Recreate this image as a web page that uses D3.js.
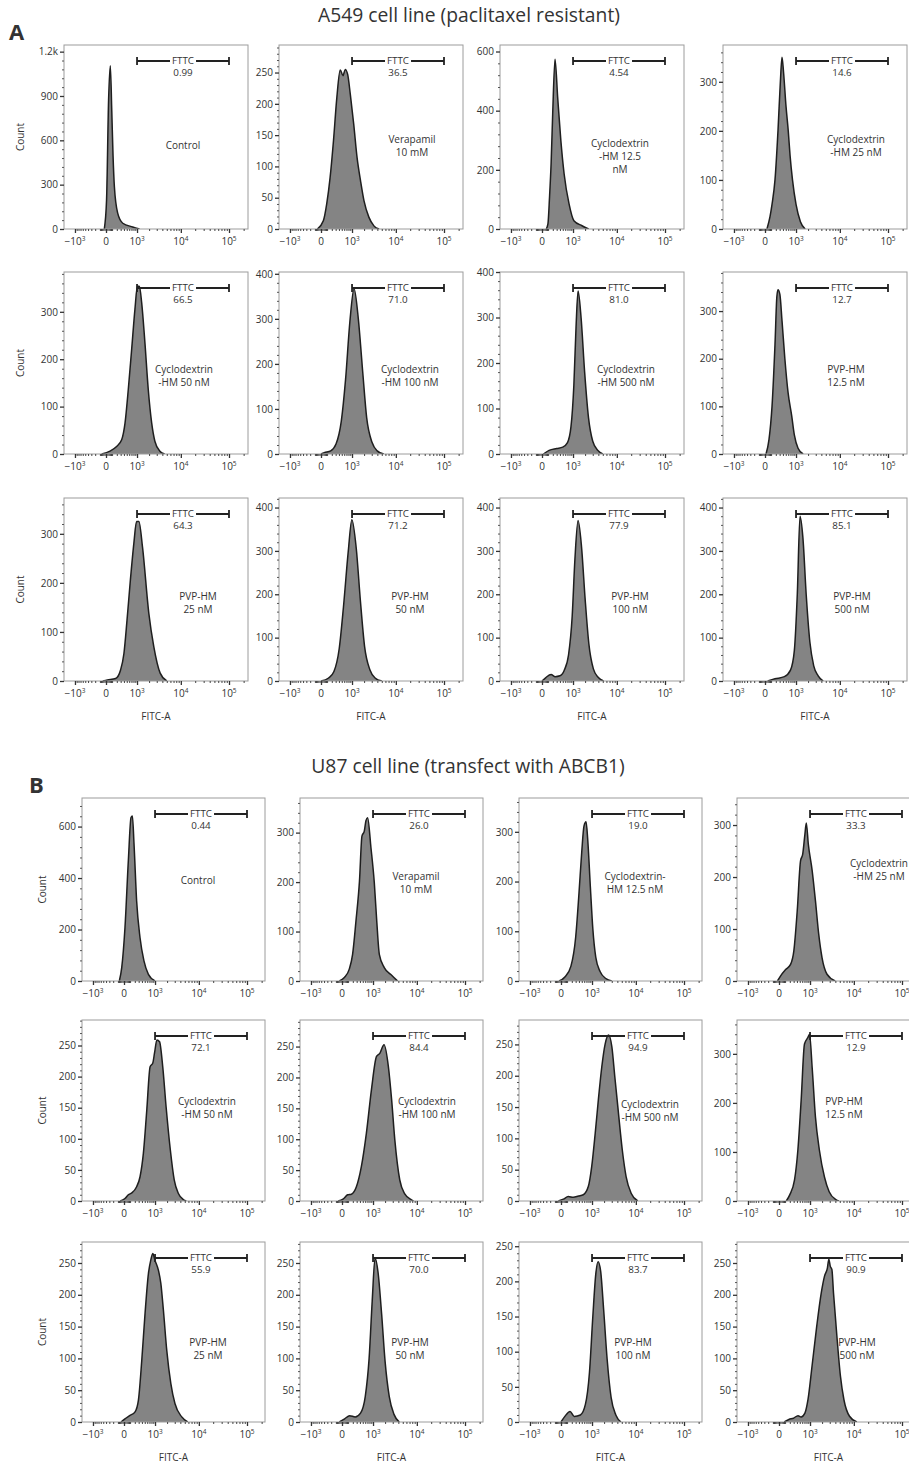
<!DOCTYPE html>
<meta charset="utf-8">
<style>
  body { margin: 0; background: #fff; }
  svg text { font-family: "Open Sans", sans-serif; fill: #333; }
</style>
<script src="https://cdnjs.cloudflare.com/ajax/libs/d3/7.8.5/d3.min.js"></script>
<body>
<script>

// ---- data ----
var labelsA = [["Control"], ["Verapamil", "10 mM"], ["Cyclodextrin", "-HM 12.5", "nM"], ["Cyclodextrin", "-HM 25 nM"],
  ["Cyclodextrin", "-HM 50 nM"], ["Cyclodextrin", "-HM 100 nM"], ["Cyclodextrin", "-HM 500 nM"], ["PVP-HM", "12.5 nM"],
  ["PVP-HM", "25 nM"], ["PVP-HM", "50 nM"], ["PVP-HM", "100 nM"], ["PVP-HM", "500 nM"]];
var labelsB = [["Control"], ["Verapamil", "10 mM"], ["Cyclodextrin-", "HM 12.5 nM"], ["Cyclodextrin", "-HM 25 nM"],
  ["Cyclodextrin", "-HM 50 nM"], ["Cyclodextrin", "-HM 100 nM"], ["Cyclodextrin", "-HM 500 nM"], ["PVP-HM", "12.5 nM"],
  ["PVP-HM", "25 nM"], ["PVP-HM", "50 nM"], ["PVP-HM", "100 nM"], ["PVP-HM", "500 nM"]];

var gateA = ["0.99", "36.5", "4.54", "14.6", "66.5", "71.0", "81.0", "12.7", "64.3", "71.2", "77.9", "85.1"];
var gateB = ["0.44", "26.0", "19.0", "33.3", "72.1", "84.4", "94.9", "12.9", "55.9", "70.0", "83.7", "90.9"];

// y axis: top of the count scale and major tick step
var yMaxA = [1245, 294, 622, 375, 384, 404, 400, 382, 373, 422, 422, 422];
var yStepA = [300, 50, 200, 100, 100, 100, 100, 100, 100, 100, 100, 100];
var yMaxB = [711, 370, 368, 352, 291, 293, 289, 369, 283, 283, 256, 283];
var yStepB = [200, 100, 100, 100, 50, 50, 50, 100, 50, 50, 50, 50];

var xMajor = [-1000, 0, 1000, 10000, 100000];
var xMinor = d3.range(-900, 0, 100).concat([-80, -60, -40, -20, 20, 40, 60, 80],
  d3.range(100, 1000, 100), d3.range(2000, 10000, 1000), d3.range(20000, 100000, 10000), [200000]);

// histograms: [FITC-A, count]
var histA = [
  [[-25,0],[8,196],[39,873],[68,1105],[94,800],[118,500],[146,286],[221,107],[363,39],[760,14],[1160,0]],
  [[-57,0],[35,13],[93,40],[161,82],[241,141],[334,210],[444,254],[548,245],[644,255],[758,247],[899,215],[1106,168],[1350,114],[1644,77],[1990,45],[2580,19],[3355,5],[4370,0]],
  [[66,0],[97,17],[128,107],[161,220],[197,388],[255,574],[329,445],[432,298],[554,186],[780,84],[1055,28],[1690,11],[2420,0]],
  [[29,0],[80,25],[118,50],[181,100],[254,200],[320,300],[370,350],[420,320],[510,250],[600,200],[680,150],[800,100],[1000,50],[1300,15],[1700,0]],
  [[-68,0],[62,6],[195,16],[329,30],[437,65],[560,136],[707,220],[877,305],[1020,354],[1150,354],[1320,319],[1590,234],[1910,136],[2300,65],[2720,27],[3520,6],[4500,0]],
  [[0,0],[50,3],[175,7],[310,22],[483,73],[657,165],[875,294],[1130,367],[1450,300],[1850,183],[2300,80],[3040,26],[3970,7],[5530,0]],
  [[20,0],[120,8],[300,12],[500,15],[700,25],[880,60],[1050,150],[1200,280],[1350,358],[1600,300],[1950,180],[2400,80],[3000,28],[3900,8],[5000,0]],
  [[15,0],[62,30],[118,100],[181,230],[225,330],[254,345],[306,335],[370,280],[467,200],[590,130],[760,80],[900,40],[1130,12],[1520,0]],
  [[-50,0],[20,2],[172,5],[295,22],[400,56],[510,124],[650,206],[820,281],[970,325],[1120,325],[1380,274],[1970,138],[2570,70],[3580,16],[5000,0]],
  [[0,0],[130,7],[253,22],[410,75],[566,170],[790,300],[990,372],[1290,305],[1630,185],[2050,80],[2720,26],[3570,7],[5000,0]],
  [[0,0],[60,8],[160,15],[260,10],[400,12],[560,25],[750,60],[950,150],[1120,280],[1350,370],[1640,310],[2000,190],[2450,85],[3100,28],[4000,8],[5200,0]],
  [[40,0],[180,5],[450,10],[700,25],[900,70],[1080,200],[1270,380],[1500,330],[1800,200],[2200,90],[2700,35],[3400,12],[4400,0]]
];
var histB = [
  [[-74,0],[-34,52],[14,207],[68,466],[118,635],[146,641],[182,531],[245,311],[340,168],[470,78],[650,26],[1000,0]],
  [[-40,0],[35,7],[123,24],[195,54],[280,121],[385,202],[470,293],[560,303],[630,324],[707,330],[877,270],[1080,199],[1250,121],[1450,54],[1910,27],[2720,13],[3830,0]],
  [[-30,0],[60,8],[180,30],[300,88],[400,175],[500,260],[590,312],[680,320],[760,285],[900,190],[1050,105],[1250,48],[1600,19],[2200,5],[3000,0]],
  [[-23,0],[24,10],[111,22],[218,32],[305,58],[410,135],[530,231],[620,244],[720,282],[790,304],[900,263],[1140,212],[1380,154],[1660,90],[1990,45],[2600,13],[3970,0]],
  [[-60,0],[14,4],[68,10],[133,13],[245,23],[340,39],[450,77],[580,146],[730,216],[870,222],[970,238],[1120,259],[1310,256],[1570,216],[1890,152],[2380,82],[2920,34],[3620,12],[4700,2],[5400,0]],
  [[-60,0],[14,3],[92,10],[167,11],[292,23],[450,56],[650,110],[905,180],[1233,234],[1490,239],[1890,253],[2380,218],[2830,164],[3340,99],[4300,34],[5470,12],[7680,2],[8500,0]],
  [[-40,0],[35,3],[123,7],[236,6],[385,8],[560,10],[790,23],[980,55],[1210,108],[1450,161],[1760,214],[2120,251],[2550,265],[3020,246],[3520,198],[4170,145],[5140,81],[6200,39],[8000,12],[11000,0]],
  [[123,0],[195,12],[325,43],[432,104],[554,205],[700,320],[870,333],[970,340],[1140,271],[1380,171],[1720,104],[2270,49],[2910,19],[4100,3],[4800,0]],
  [[-45,0],[14,5],[92,10],[206,16],[292,34],[395,97],[510,170],[650,233],[760,254],[870,265],[1000,254],[1233,238],[1410,218],[1630,176],[1960,113],[2450,60],[3030,29],[4300,8],[5800,0]],
  [[-40,0],[40,5],[130,10],[260,8],[420,14],[600,40],[780,100],[950,190],[1130,258],[1350,235],[1650,170],[2000,95],[2500,40],[3200,12],[4200,0]],
  [[0,0],[60,8],[160,15],[260,8],[450,10],[650,25],[850,70],[1050,150],[1250,210],[1430,228],[1650,215],[1950,160],[2350,90],[2900,35],[3700,10],[4800,0]],
  [[84,0],[178,4],[295,6],[437,10],[554,8],[720,14],[880,35],[1130,88],[1480,150],[1910,203],[2270,229],[2650,242],[2860,256],[3080,245],[3350,240],[3640,203],[4270,140],[5170,72],[6150,35],[8100,9],[11600,0]]
];

// ---- layout ----
var colA = [64, 279, 500, 723], rowA = [45, 272, 498], hA = [184, 182, 183], wA = 184;
var colB = [82, 300, 519, 737], rowB = [798, 1020, 1242], hB = [183, 181, 180], wB = 183;
// sample label centre [dx, dy of first line] inside each panel
var lposA = [[119,100],[133,94],[120,98],[133,94],[120,97],[131,97],[126,97],[123,97],[134,98],[131,98],[130,98],[129,98]];
var lposB = [[116,82],[116,78],[116,78],[142,65],[125,81],[127,81],[131,84],[107,81],[126,100],[110,100],[114,100],[120,100]];

var svg = d3.select("body").append("svg").attr("width", 909).attr("height", 1468);
var clipN = 0;

function fmtY(v) { return v >= 1000 ? (v / 1000) + "k" : v; }

function drawPanel(left, top, w, h, pts, yMax, yStep, gate, lines, lpos) {
  var g = svg.append("g").attr("transform", "translate(" + left + "," + top + ")");
  var x = d3.scaleSymlog().constant(300).domain([0, 100000]).range([42, 165]);
  var y = d3.scaleLinear().domain([0, yMax]).range([h, 0]);

  var id = "clip" + (clipN++);
  g.append("clipPath").attr("id", id).append("rect").attr("width", w).attr("height", h);
  var plot = g.append("g").attr("clip-path", "url(#" + id + ")");

  plot.append("path").datum(pts)
    .attr("d", d3.area().x(d => x(d[0])).y0(h).y1(d => y(d[1])).curve(d3.curveMonotoneX))
    .attr("fill", "#848484");
  plot.append("path").datum(pts)
    .attr("d", d3.line().x(d => x(d[0])).y(d => y(d[1])).curve(d3.curveMonotoneX))
    .attr("fill", "none").attr("stroke", "#1e1e1e").attr("stroke-width", 1.5);

  g.append("rect").attr("width", w).attr("height", h)
    .attr("fill", "none").attr("stroke", "#9c9c9c").attr("stroke-width", 1);

  // y axis
  var yMajor = d3.range(0, yMax + 0.01, yStep);
  var yMinor = d3.range(0, Math.floor(yMax / (yStep / 5)) + 1).map(i => i * yStep / 5)
    .filter((v, i) => i % 5 !== 0);
  var ya = g.append("g").call(d3.axisLeft(y).tickValues(yMajor).tickSize(4).tickFormat(fmtY));
  ya.select(".domain").remove();
  ya.selectAll("line").attr("stroke", "#333").attr("stroke-width", 1.3);
  ya.selectAll("text").attr("font-size", 10).attr("x", -6).attr("fill", "#333")
    .style("font-family", "'Open Sans', sans-serif");
  var ym = g.append("g").call(d3.axisLeft(y).tickValues(yMinor).tickSize(2).tickFormat(""));
  ym.select(".domain").remove();
  ym.selectAll("line").attr("stroke", "#555");

  // x axis
  var xa = g.append("g").attr("transform", "translate(0," + h + ")")
    .call(d3.axisBottom(x).tickValues(xMajor).tickSize(4).tickFormat(""));
  xa.select(".domain").remove();
  xa.selectAll("line").attr("stroke", "#333").attr("stroke-width", 1.3);
  var xm = g.append("g").attr("transform", "translate(0," + h + ")")
    .call(d3.axisBottom(x).tickValues(xMinor).tickSize(2).tickFormat(""));
  xm.select(".domain").remove();
  xm.selectAll("line").attr("stroke", "#444");

  xMajor.forEach(function(v) {
    var t = g.append("text").attr("x", x(v)).attr("y", h + 16)
      .attr("text-anchor", "middle").attr("font-size", 10);
    if (v === 0) { t.text("0"); return; }
    var e = Math.round(Math.log10(Math.abs(v)));
    t.append("tspan").text((v < 0 ? "\u221210" : "10"));
    t.append("tspan").attr("dy", -4).attr("font-size", 6.5).text(e);
  });

  // gate
  var gy = 16, gx0 = x(1000), gx1 = x(100000), gm = (gx0 + gx1) / 2;
  var ft = g.append("text").attr("x", gm).attr("y", gy).attr("dy", "0.35em")
    .attr("text-anchor", "middle").attr("font-size", 9.8).text("FTTC");
  var tw = ft.node().getComputedTextLength();
  var gl = g.append("g").attr("stroke", "#222").attr("stroke-width", 1.8);
  gl.append("line").attr("x1", gx0).attr("x2", gm - tw / 2 - 2).attr("y1", gy).attr("y2", gy);
  gl.append("line").attr("x1", gm + tw / 2 + 2).attr("x2", gx1).attr("y1", gy).attr("y2", gy);
  gl.append("line").attr("x1", gx0).attr("x2", gx0).attr("y1", gy - 4).attr("y2", gy + 4);
  gl.append("line").attr("x1", gx1).attr("x2", gx1).attr("y1", gy - 4).attr("y2", gy + 4);
  g.append("text").attr("x", gm).attr("y", gy + 12).attr("dy", "0.35em")
    .attr("text-anchor", "middle").attr("font-size", 9.8).text(gate);

  // sample label
  lines.forEach(function(s, i) {
    g.append("text").attr("x", lpos[0]).attr("y", lpos[1] + i * 13).attr("dy", "0.35em")
      .attr("text-anchor", "middle").attr("font-size", 10).text(s);
  });
}

function drawSection(cols, rows, hs, w, hist, yMax, yStep, gate, labels, lpos, countX) {
  for (var r = 0; r < 3; r++) {
    for (var c = 0; c < 4; c++) {
      var i = r * 4 + c;
      drawPanel(cols[c], rows[r], w, hs[r], hist[i], yMax[i], yStep[i], gate[i], labels[i], lpos[i]);
    }
    svg.append("text").attr("transform", "translate(" + countX + "," + (rows[r] + hs[r] / 2) + ") rotate(-90)")
      .attr("text-anchor", "middle").attr("dy", "0.35em").attr("font-size", 10).text("Count");
  }
  for (var c2 = 0; c2 < 4; c2++) {
    svg.append("text").attr("x", cols[c2] + w / 2).attr("y", rows[2] + hs[2] + 35).attr("dy", "0.35em")
      .attr("text-anchor", "middle").attr("font-size", 10).text("FITC-A");
  }
}

svg.append("text").attr("x", 469).attr("y", 22).attr("text-anchor", "middle")
  .attr("font-size", 19.3).text("A549 cell line (paclitaxel resistant)");
svg.append("text").attr("x", 9).attr("y", 40).attr("font-size", 22).attr("font-weight", "bold")
  .attr("fill", "#111").text("A");
svg.append("text").attr("x", 468).attr("y", 773).attr("text-anchor", "middle")
  .attr("font-size", 19.3).text("U87 cell line (transfect with ABCB1)");
svg.append("text").attr("x", 29).attr("y", 793).attr("font-size", 22).attr("font-weight", "bold")
  .attr("fill", "#111").text("B");

drawSection(colA, rowA, hA, wA, histA, yMaxA, yStepA, gateA, labelsA, lposA, 20);
drawSection(colB, rowB, hB, wB, histB, yMaxB, yStepB, gateB, labelsB, lposB, 42);

</script>
</body>
